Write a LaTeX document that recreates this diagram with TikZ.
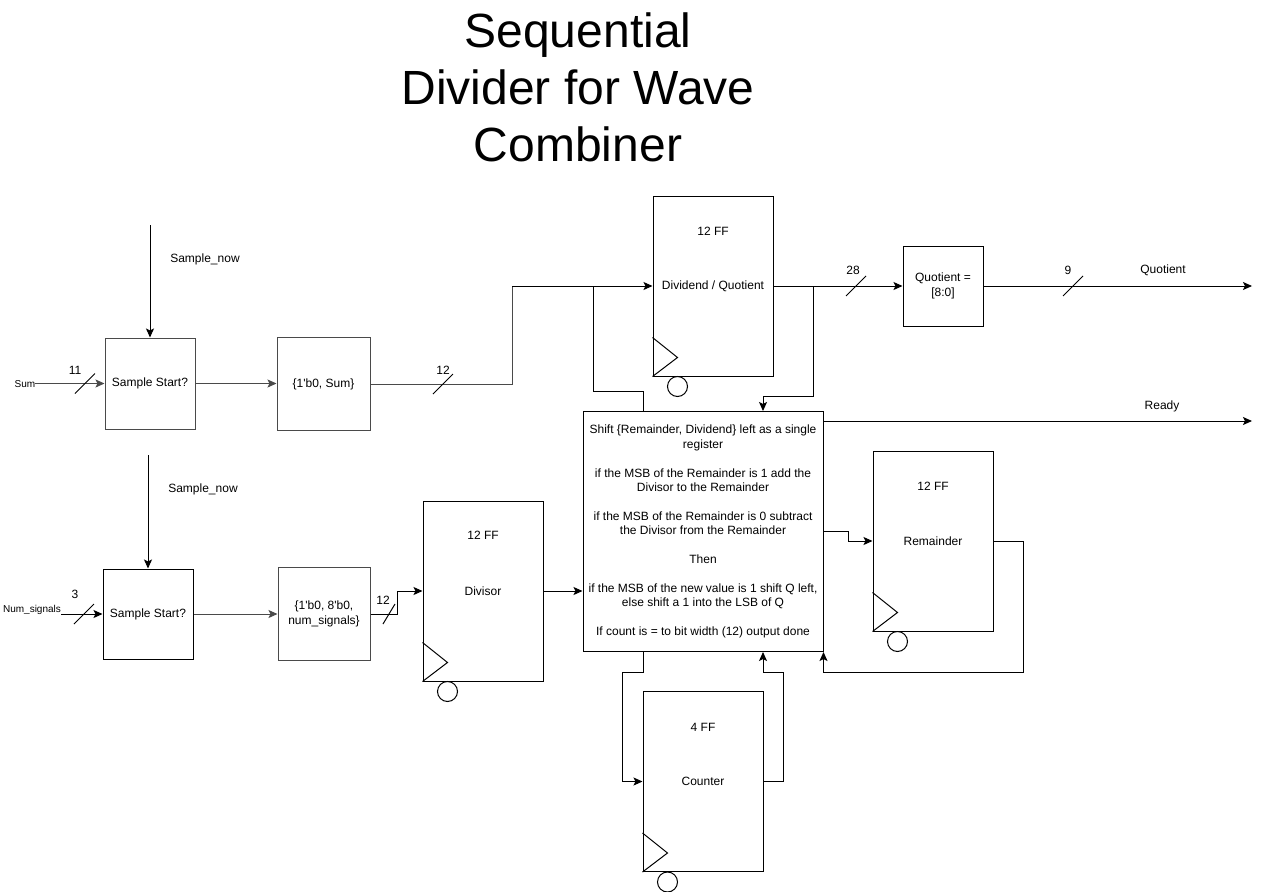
\documentclass[tikz,border=0pt]{standalone}
\usepackage{fontspec}
\setmainfont{Liberation Sans}
\usetikzlibrary{positioning,arrows.meta,calc}
\definecolor{wiregray}{HTML}{4A4A4A}

\begin{document}
\begin{tikzpicture}[x=1pt,y=-1pt,
  >={Stealth[length=9pt,width=8pt,inset=2pt]},
  blk/.style={rectangle,draw,line width=1pt,inner sep=0pt,align=center,font=\fontsize{12}{14.4}\selectfont},
  gblk/.style={blk,draw=wiregray},
  ffbox/.style={blk,minimum width=120pt,minimum height=180pt},
  clkc/.style={circle,draw,line width=1pt,minimum size=20pt,inner sep=0pt},
  lbl/.style={inner sep=0pt,font=\fontsize{12}{14.4}\selectfont},
  small/.style={inner sep=0pt,font=\fontsize{10}{12}\selectfont},
  ttl/.style={inner sep=0pt,anchor=base,font=\fontsize{48}{57.6}\selectfont},
  wire/.style={line width=1pt},
  gwire/.style={wire,draw=wiregray}]

  \useasboundingbox (0,0) rectangle (1262,892);

  % title
  \node[ttl] (title1) at (578,47) {Sequential};
  \node[ttl] (title2) at (578,104) {Divider for Wave};
  \node[ttl] (title3) at (578,161) {Combiner};

  % input stages
  \node[gblk,minimum width=90pt,minimum height=91pt] (ssum) at (150,383.5) {Sample Start?};
  \node[gblk,minimum width=93pt,minimum height=93pt] (catsum) at (323.5,384) {\{1\textquotesingle b0, Sum\}};
  \node[blk,minimum width=90pt,minimum height=90pt] (ssnum) at (148,614) {Sample Start?};
  \node[gblk,minimum width=92pt,minimum height=93pt] (catnum) at (324,614)
        {\{1\textquotesingle b0, 8\textquotesingle b0,\\num\_signals\}};

  % registers
  \node[ffbox] (dq) at (713,286) {};
  \node[lbl] (dqff) at (713,231) {12 FF};
  \node[lbl] (dqname) at (dq) {Dividend / Quotient};
  \node[ffbox] (divisor) at (483,591) {};
  \node[lbl] (divisorff) at (483,535) {12 FF};
  \node[lbl] (divisorname) at (divisor) {Divisor};
  \node[ffbox] (rem) at (933,541) {};
  \node[lbl] (remff) at (933,486) {12 FF};
  \node[lbl] (remname) at (rem) {Remainder};
  \node[ffbox] (cnt) at (703,781.5) {};
  \node[lbl] (cntff) at (703,727) {4 FF};
  \node[lbl] (cntname) at (cnt) {Counter};

  % clock inputs
  \foreach \r in {dq,divisor,rem,cnt}{
    \draw[wire] ($(\r.south west)+(0,-39)$) -- ($(\r.south west)+(25,-19)$) -- (\r.south west);
    \node[clkc] (\r clk) at ($(\r.south west)+(25,10)$) {};
  }

  % control block
  \node[blk,minimum width=240pt,minimum height=240pt] (main) at (703,531.5)
        {Shift \{Remainder, Dividend\} left as a single\\register\\[14.4pt]
         if the MSB of the Remainder is 1 add the\\Divisor to the Remainder\\[14.4pt]
         if the MSB of the Remainder is 0 subtract\\the Divisor from the Remainder\\[14.4pt]
         Then\\[14.4pt]
         if the MSB of the new value is 1 shift Q left,\\else shift a 1 into the LSB of Q\\[14.4pt]
         If count is = to bit width (12) output done};

  \node[blk,minimum width=80pt,minimum height=80pt] (qsel) at (943,286) {Quotient =\\{}[8:0]};

  % sum path
  \coordinate (snow1) at (150,225);
  \draw[wire,->] (snow1) -- (ssum.north);
  \node[lbl] (snow1lbl) at (205,259) {Sample\_now};
  \node[small] (sumin) at (25,384) {Sum};
  \draw[gwire,->] (sumin.east |- ssum.west) -- (ssum.west);
  \coordinate (sumbus) at (85,383.5);
  \draw[wire] ($(sumbus)+(-10,10)$) -- ($(sumbus)+(10,-10)$);
  \node[lbl] (sumw) at (75,370) {11};
  \draw[gwire,->] (ssum.east) -- (ssum.east -| catsum.west);
  \coordinate (turn1) at (512,286);
  \draw[gwire] (catsum.east) -| (turn1);
  \draw[wire,->] (turn1) -- (dq.west);
  \coordinate (catbus) at (443,384);
  \draw[wire] ($(catbus)+(-10,10)$) -- ($(catbus)+(10,-10)$);
  \node[lbl] (catw) at (443,370) {12};

  % dividend / quotient feedback
  \coordinate (tapdq) at (593,286);
  \draw[wire] (tapdq) |- ($(main.north)+(-60,-20)$) -- ($(main.north)+(-60,0)$);
  \coordinate (tapq) at (813,286);
  \draw[wire,->] (dq.east) -- (qsel.west);
  \draw[wire,->] (tapq) |- ($(main.north)+(60,-15)$) -- ($(main.north)+(60,0)$);
  \coordinate (dqbus) at (856,286);
  \draw[wire] ($(dqbus)+(-10,10)$) -- ($(dqbus)+(10,-10)$);
  \node[lbl] (dqw) at (853,270) {28};

  % outputs
  \coordinate (qout) at (1252,286);
  \draw[wire,->] (qsel.east) -- (qout);
  \coordinate (qbus) at (1073,286);
  \draw[wire] ($(qbus)+(-10,10)$) -- ($(qbus)+(10,-10)$);
  \node[lbl] (qw) at (1068,270) {9};
  \node[lbl] (qlbl) at (1163,270) {Quotient};
  \coordinate (rdyout) at (1252,421);
  \draw[wire,->] (main.north east |- rdyout) -- (rdyout);
  \node[lbl] (rdylbl) at (1162,406) {Ready};

  % remainder and counter loops
  \draw[wire,->] (main.east) -- ++(25,0) |- (rem.west);
  \draw[wire,->] (rem.east) -- ++(30,0) |- ($(main.south east)+(0,20)$) -- (main.south east);
  \draw[wire,->] ($(main.south)+(-60,0)$) -- ++(0,20) -| ($(cnt.west)+(-20,0)$) -- (cnt.west);
  \draw[wire,->] (cnt.east) -- ++(20,0) |- ($(main.south)+(60,20)$) -- ($(main.south)+(60,0)$);

  % num_signals path
  \coordinate (snow2) at (148,455);
  \draw[wire,->] (snow2) -- (ssnum.north);
  \node[lbl] (snow2lbl) at (203,489) {Sample\_now};
  \node[small] (numin) at (32,610) {Num\_signals};
  \draw[wire,->] (numin.east |- ssnum.west) -- (ssnum.west);
  \coordinate (numbus) at (84,614);
  \draw[wire] ($(numbus)+(-10,10)$) -- ($(numbus)+(10,-10)$);
  \node[lbl] (numw) at (75,594) {3};
  \draw[gwire,->] (ssnum.east) -- (catnum.west);
  \draw[wire,->] (catnum.east) -- ++(27,0) |- (divisor.west);
  \coordinate (divbus) at (389,614);
  \draw[wire] ($(divbus)+(-6,10)$) -- ($(divbus)+(6,-10)$);
  \node[lbl] (divw) at (383,600) {12};
  \draw[wire,->] (divisor.east) -- (main.west |- divisor.east);
\end{tikzpicture}
\end{document}
